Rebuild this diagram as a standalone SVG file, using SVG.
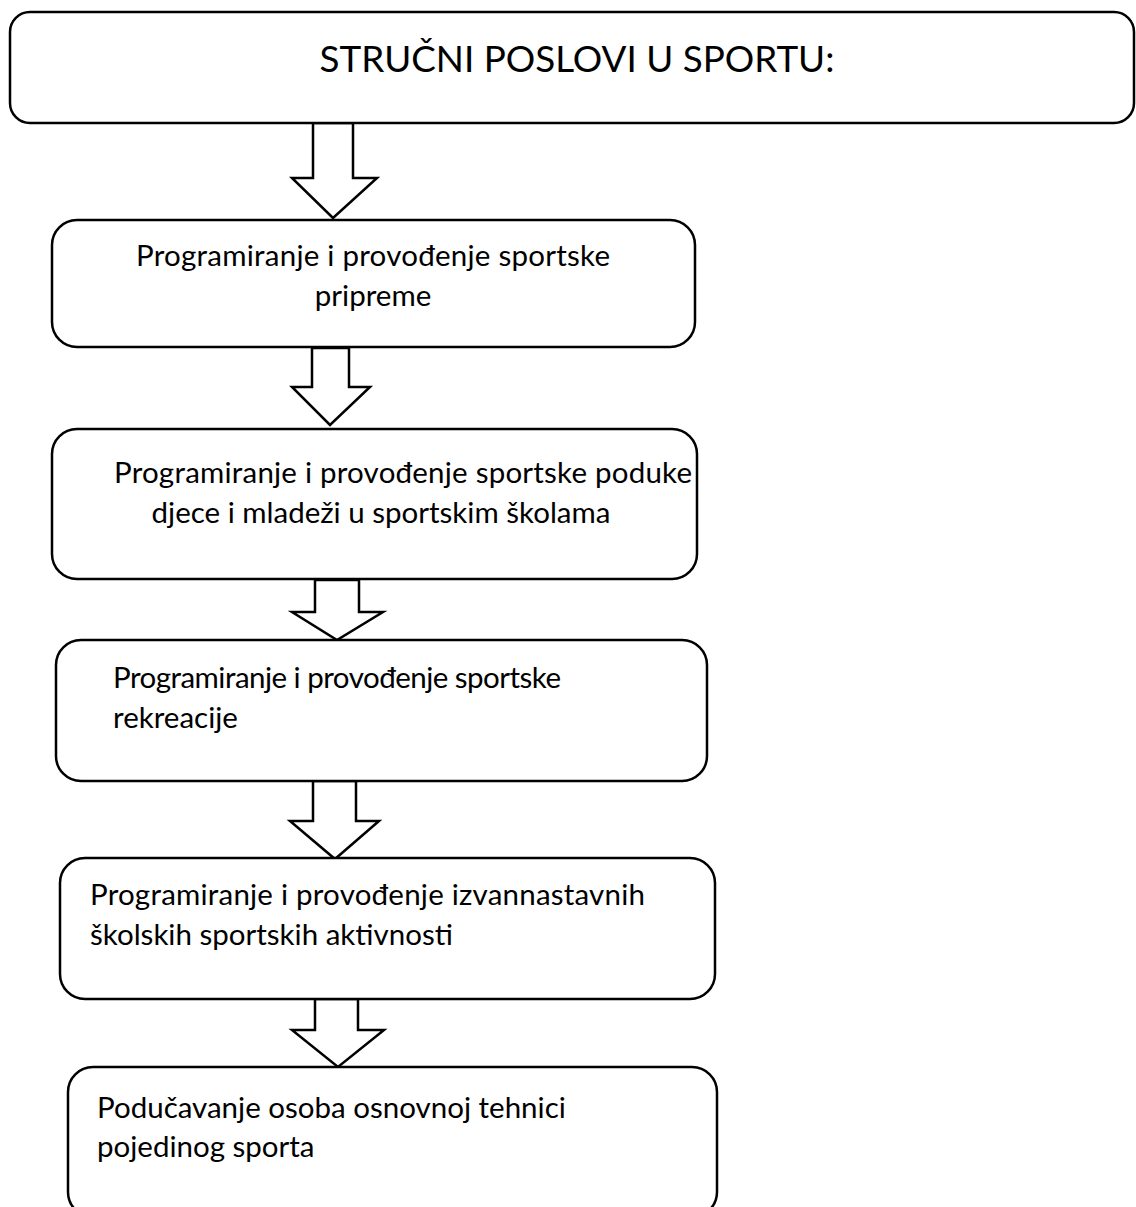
<svg xmlns="http://www.w3.org/2000/svg" width="1136" height="1207" viewBox="0 0 1136 1207">
<style>
.box{fill:#fff;stroke:#000;stroke-width:2.5}
.arr{fill:#fff;stroke:#000;stroke-width:2.5;stroke-linejoin:miter}
text{font-family:Lato,"Open Sans","Liberation Sans",sans-serif;fill:#000}
.t{font-size:29.5px}
.title{font-size:36.8px}
.c{text-anchor:middle}
</style>
<rect width="1136" height="1207" fill="#fff"/>
<g id="connectors">
<polygon class="arr" points="313,123 353,123 353,178 377,178 333,218 292,178 313,178"/>
<polygon class="arr" points="312,348 349,348 349,387 370,387 330,425 292,387 312,387"/>
<polygon class="arr" points="315,580 359,580 359,612 383,612 337,640 292,612 315,612"/>
<polygon class="arr" points="313,781 356,781 356,821 379,821 335,859 290,821 313,821"/>
<polygon class="arr" points="315,999 358,999 358,1030 384,1030 338,1067 292,1030 315,1030"/>
</g>
<g id="n1"><rect class="box" x="10" y="12" width="1124" height="111" rx="20"/>
<text class="title c" x="577" y="72">STRUČNI POSLOVI U SPORTU:</text></g>
<g id="n2"><rect class="box" x="52" y="220" width="643" height="127" rx="25"/>
<text class="t c" x="373" y="266" textLength="474">Programiranje i provođenje sportske</text>
<text class="t c" x="373" y="306">pripreme</text></g>
<g id="n3"><rect class="box" x="52" y="429" width="645" height="150" rx="25"/>
<text class="t c" x="403" y="483" textLength="578">Programiranje i provođenje sportske poduke</text>
<text class="t c" x="381" y="523">djece i mladeži u sportskim školama</text></g>
<g id="n4"><rect class="box" x="56" y="640" width="651" height="141" rx="25"/>
<text class="t" x="113" y="688" textLength="448">Programiranje i provođenje sportske</text>
<text class="t" x="113" y="728">rekreacije</text></g>
<g id="n5"><rect class="box" x="60" y="858" width="655" height="141" rx="25"/>
<text class="t" x="90" y="905" textLength="555">Programiranje i provođenje izvannastavnih</text>
<text class="t" x="90" y="945">školskih sportskih aktivnosti</text></g>
<g id="n6"><rect class="box" x="68" y="1067" width="649" height="150" rx="25"/>
<text class="t" x="97" y="1118">Podučavanje osoba osnovnoj tehnici</text>
<text class="t" x="97" y="1157">pojedinog sporta</text></g>
</svg>
